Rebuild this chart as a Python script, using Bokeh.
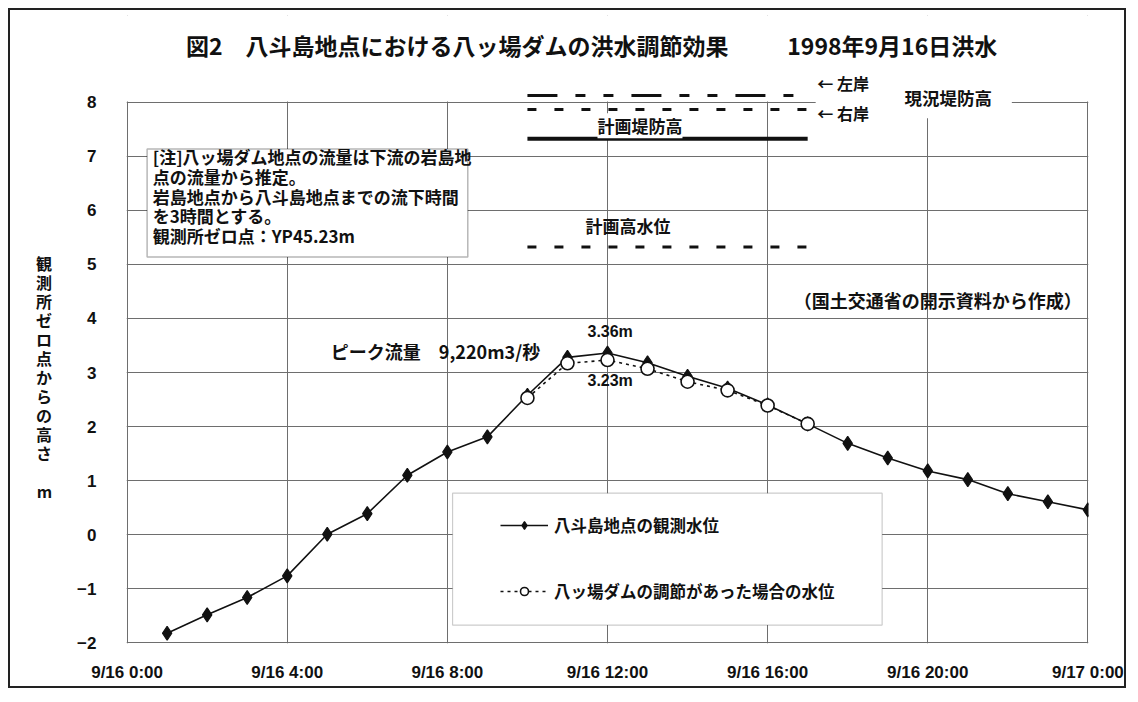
from bokeh.plotting import figure
from bokeh.models import (ColumnDataSource, FixedTicker, Label, BoxAnnotation,
                          Arrow, Legend, LegendItem)
from bokeh.embed import file_html
from bokeh.resources import INLINE

# ---------------- data ----------------
hours_obs = list(range(1, 25))
level_obs = [-1.82, -1.48, -1.16, -0.76, 0.01, 0.39, 1.10, 1.53, 1.81, 2.58,
             3.28, 3.36, 3.18, 2.93, 2.71, 2.40, 2.05, 1.69, 1.42, 1.18,
             1.02, 0.76, 0.61, 0.46]
hours_dam = list(range(10, 18))
level_dam = [2.53, 3.17, 3.23, 3.07, 2.83, 2.67, 2.39, 2.05]

x_ticks = [0, 4, 8, 12, 16, 20, 24]
x_tick_labels = ["9/16 0:00", "9/16 4:00", "9/16 8:00", "9/16 12:00",
                 "9/16 16:00", "9/16 20:00", "9/17 0:00"]
y_ticks = list(range(-2, 9))
y_tick_labels = [("−" + str(-t)) if t < 0 else str(t) for t in y_ticks]

# reference levels (m), shown from hour 10 to hour 17
ref_start, ref_end = 10, 17
levee_left = 8.12     # 現況堤防高 左岸
levee_right = 7.86    # 現況堤防高 右岸
levee_plan = 7.32     # 計画堤防高
plan_hwl = 5.32       # 計画高水位

JP = "Noto Sans CJK JP"
LAT = "Liberation Sans"
INK = "#111111"
GRID = "#6e6e6e"

p = figure(width=1118, height=680, x_range=(-0.015, 24.015), y_range=(-2.01, 9.6),
           output_backend="svg", toolbar_location=None,
           min_border_left=116, min_border_right=40,
           min_border_top=5, min_border_bottom=47,
           background_fill_color="white", border_fill_color="white")
p.styles = {"border": "2px solid #222", "margin": "8px 0 0 8px"}
p.outline_line_color = None

p.xaxis.ticker = FixedTicker(ticks=x_ticks)
p.xaxis.major_label_overrides = dict(zip(x_ticks, x_tick_labels))
p.yaxis.ticker = FixedTicker(ticks=y_ticks)
p.yaxis.major_label_overrides = dict(zip(y_ticks, y_tick_labels))
for ax in (p.xaxis, p.yaxis):
    ax.axis_line_color = None
    ax.major_tick_line_color = None
    ax.minor_tick_line_color = None
    ax.major_label_text_font = LAT
    ax.major_label_text_font_style = "bold"
    ax.major_label_text_font_size = "17px"
    ax.major_label_text_color = INK
p.xaxis.major_label_standoff = 13
p.yaxis.major_label_standoff = 24

# vertical, upright y-axis title
p.yaxis.axis_label = "\n".join(["　"] * 5 + list("観測所ゼロ点からの高さ") + ["　", "m"])
p.yaxis.axis_label_orientation = "horizontal"
p.yaxis.axis_label_text_font = JP
p.yaxis.axis_label_text_font_style = "bold"
p.yaxis.axis_label_text_font_size = "16px"
p.yaxis.axis_label_text_color = INK
p.yaxis.axis_label_text_line_height = 0.79
p.yaxis.axis_label_standoff = 22

p.xgrid.grid_line_color = GRID
p.ygrid.grid_line_color = GRID
p.xgrid.grid_line_width = 1
p.ygrid.grid_line_width = 1

src_obs = ColumnDataSource(dict(x=hours_obs, y=level_obs))
src_dam = ColumnDataSource(dict(x=hours_dam, y=level_dam))

r_dam_line = p.line('x', 'y', source=src_dam, line_color=INK, line_width=1.6,
                    line_dash="3 4")
r_obs_line = p.line('x', 'y', source=src_obs, line_color=INK, line_width=1.6)
r_obs_pts = p.scatter('x', 'y', source=src_obs, marker="diamond", size=14,
                      fill_color=INK, line_color=INK, line_width=1.2)
r_dam_pts = p.scatter('x', 'y', source=src_dam, marker="circle", size=13,
                      fill_color="white", line_color=INK, line_width=1.6)

# white band above the plotting frame (hides grid above y=8)
p.add_layout(BoxAnnotation(bottom=8.012, fill_color="white", fill_alpha=1,
                           line_color=None))
# white patch behind the 現況堤防高 labels
p.add_layout(BoxAnnotation(left=17.2, right=22.1, top=8.06, bottom=7.70,
                           fill_color="white", fill_alpha=1, line_color=None))

# reference level lines
p.add_layout(Arrow(end=None, x_start=ref_start, y_start=levee_left,
                   x_end=ref_end, y_end=levee_left, line_color=INK,
                   line_width=3, line_dash="30 18 10 18 10 18"))
p.add_layout(Arrow(end=None, x_start=ref_start, y_start=levee_right,
                   x_end=ref_end, y_end=levee_right, line_color=INK,
                   line_width=3, line_dash="9 18"))
p.add_layout(Arrow(end=None, x_start=ref_start, y_start=levee_plan,
                   x_end=ref_end, y_end=levee_plan, line_color=INK,
                   line_width=4))
p.add_layout(Arrow(end=None, x_start=ref_start, y_start=plan_hwl,
                   x_end=ref_end, y_end=plan_hwl, line_color=INK,
                   line_width=3, line_dash="9 18"))

# note box
p.add_layout(BoxAnnotation(left=0.50, right=8.51, top=7.13, bottom=5.135,
                           fill_color="white", fill_alpha=1, line_color=INK,
                           line_width=1.5))
# legend box
p.add_layout(BoxAnnotation(left=8.13, right=18.86, top=0.77, bottom=-1.67,
                           fill_color="white", fill_alpha=1, line_color="#555555",
                           line_width=1.2))


def lab(x, y, text, size="16px", font=JP, align="left", baseline="middle",
        bg=None, lh=1.2):
    lb = Label(x=x, y=y, text=text, text_font=font, text_font_style="bold",
               text_font_size=size, text_color=INK, text_align=align,
               text_baseline=baseline, text_line_height=lh)
    if bg:
        lb.background_fill_color = bg
    p.add_layout(lb)


lab(1.47, 9.05, "図2　八斗島地点における八ッ場ダムの洪水調節効果", size="23px")
lab(16.49, 9.05, "1998年9月16日洪水", size="23px")
lab(17.24, 8.35, "← 左岸", size="16px")
lab(17.24, 7.80, "← 右岸", size="16px")
lab(19.42, 8.09, "現況堤防高", size="17.5px")
lab(11.75, 7.56, "計画堤防高", size="17px", bg="white")
lab(11.45, 5.71, "計画高水位", size="17px")
lab(16.65, 4.34, "（国土交通省の開示資料から作成）", size="18px")
lab(5.09, 3.40, "ピーク流量　9,220m3/秒", size="18px")
lab(11.5, 3.75, "3.36m", size="16px", font=LAT)
lab(11.5, 2.86, "3.23m", size="16px", font=LAT)
lab(0.64, 7.22, "[注]八ッ場ダム地点の流量は下流の岩島地\n点の流量から推定。\n"
    "岩島地点から八斗島地点までの流下時間\nを3時間とする。\n観測所ゼロ点：YP45.23m",
    size="17px", baseline="top", lh=0.79)

legend = Legend(items=[
    LegendItem(label="八斗島地点の観測水位", renderers=[r_obs_line, r_obs_pts]),
    LegendItem(label="八ッ場ダムの調節があった場合の水位", renderers=[r_dam_line, r_dam_pts]),
], location=(374, 40), orientation="vertical", glyph_width=48, glyph_height=20,
    label_height=20, spacing=42, padding=0, margin=0, label_standoff=6,
    background_fill_alpha=0, border_line_alpha=0,
    label_text_font=JP, label_text_font_style="bold",
    label_text_font_size="16.5px", label_text_color=INK)
p.add_layout(legend)

open("out.html", "w").write(file_html(p, INLINE))
